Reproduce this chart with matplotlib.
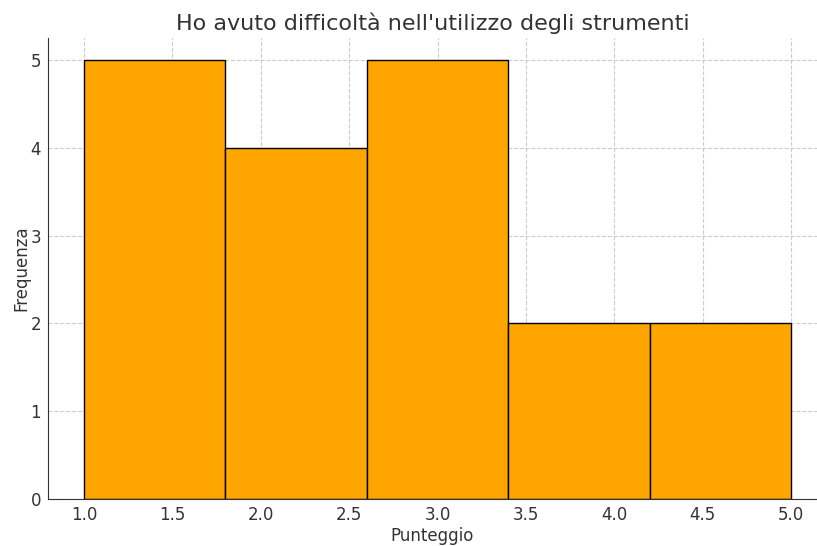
import matplotlib

matplotlib.use("Agg")
import matplotlib.pyplot as plt

# Histogram of scores: bin edges and the count in each bin
bin_edges = [1.0, 1.8, 2.6, 3.4, 4.2, 5.0]
counts = [5, 4, 5, 2, 2]
title = "Ho avuto difficoltà nell'utilizzo degli strumenti"
xlabel = "Punteggio"
ylabel = "Frequenza"

TEXT = "#333333"

fig = plt.figure(figsize=(8.17, 5.46), dpi=100)
ax = fig.add_axes([48 / 817, 47 / 546, 769 / 817, 461 / 546])

centers = [(a + b) / 2 for a, b in zip(bin_edges[:-1], bin_edges[1:])]
ax.hist(centers, bins=bin_edges, weights=counts, color="#FFA500",
        edgecolor="black", linewidth=1.0, zorder=2)

ax.set_xlim(0.796, 5.147)
ax.set_ylim(0, 5.25)
ax.set_xticks([1.0, 1.5, 2.0, 2.5, 3.0, 3.5, 4.0, 4.5, 5.0])
ax.set_yticks([0, 1, 2, 3, 4, 5])
ax.grid(True, linestyle="--", color="#cccccc", linewidth=0.8, zorder=0)
ax.set_axisbelow(True)

for side in ("top", "right"):
    ax.spines[side].set_visible(False)
for side in ("left", "bottom"):
    ax.spines[side].set_color(TEXT)

ax.tick_params(labelsize=12, colors=TEXT, length=0, pad=5)
ax.set_title(title, fontsize=16, color=TEXT, pad=6)
ax.set_xlabel(xlabel, fontsize=12, color=TEXT, labelpad=2)
ax.set_ylabel(ylabel, fontsize=12, color=TEXT, labelpad=0)

fig.savefig("out.png", dpi=100)
